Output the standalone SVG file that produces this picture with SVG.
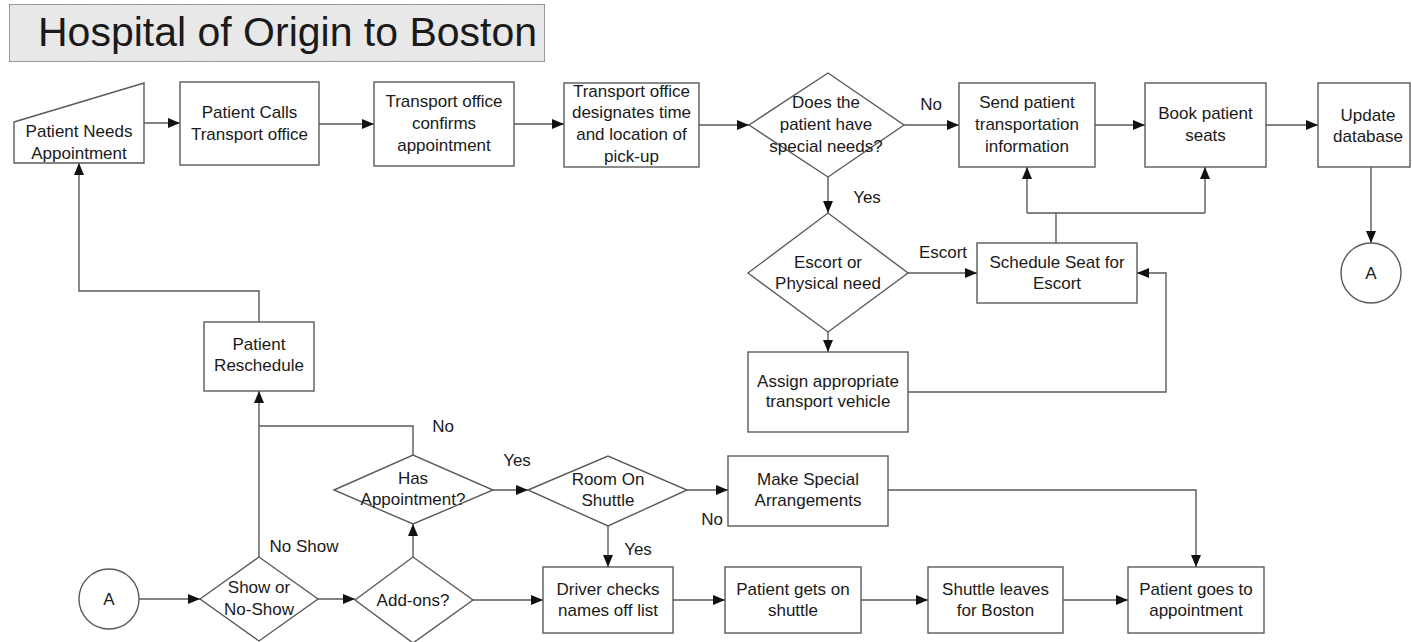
<svg xmlns="http://www.w3.org/2000/svg" width="1412" height="642" viewBox="0 0 1412 642">
  <defs>
    <marker id="arrow" viewBox="0 0 12 10" refX="12" refY="5" markerWidth="12" markerHeight="10" markerUnits="userSpaceOnUse" orient="auto">
      <path d="M0,0 L12,5 L0,10 Z" fill="#111"/>
    </marker>
    <!-- light speckle for the title banner -->
    <filter id="grain" x="0" y="0" width="100%" height="100%">
      <feTurbulence type="fractalNoise" baseFrequency="0.9" numOctaves="2" seed="3" result="noise"/>
      <feColorMatrix in="noise" type="matrix" values="0 0 0 0 0.55  0 0 0 0 0.55  0 0 0 0 0.55  0 0 0 0.35 0" result="speck"/>
      <feComposite in="speck" in2="SourceGraphic" operator="in" result="clipped"/>
      <feMerge><feMergeNode in="SourceGraphic"/><feMergeNode in="clipped"/></feMerge>
    </filter>
    <style>
      .shape { fill: #fff; stroke: #5a5a5a; stroke-width: 1.4; }
      .title-box { fill: #efefef; stroke: #666; stroke-width: 1.4; }
      .line { fill: none; stroke: #5a5a5a; stroke-width: 1.4; }
      .arr { marker-end: url(#arrow); }
      text { font-family: "Liberation Sans", Arial, Helvetica, sans-serif; fill: #1a1a1a; }
      .lbl { font-size: 17px; text-anchor: middle; }
      .title { font-size: 41px; }
    </style>
  </defs>

  <rect width="1412" height="642" fill="#fff"/>

  <!-- Title banner -->
  <g id="title">
    <rect class="title-box" x="9" y="4" width="536" height="58" filter="url(#grain)"/>
    <text class="title" x="38" y="46">Hospital of Origin to Boston</text>
  </g>

  <!-- Connectors -->
  <g id="connectors">
    <path class="line arr" d="M144,123 H180"/>
    <path class="line arr" d="M319,124 H374"/>
    <path class="line arr" d="M514,124 H564"/>
    <path class="line arr" d="M699,125 H749"/>
    <path class="line arr" d="M904,125 H959"/>
    <path class="line arr" d="M1095,125 H1145"/>
    <path class="line arr" d="M1266,125 H1318"/>
    <path class="line arr" d="M1371,167 V243"/>
    <path class="line arr" d="M828,177 V213"/>
    <path class="line arr" d="M908,273 H977"/>
    <path class="line arr" d="M828,332 V352"/>
    <path class="line arr" d="M908,392 H1166 V273 H1137"/>
    <path class="line" d="M1056,243 V213 M1027,213 H1205"/>
    <path class="line arr" d="M1027,213 V167"/>
    <path class="line arr" d="M1205,213 V167"/>
    <path class="line arr" d="M139,599 H200"/>
    <path class="line arr" d="M318,599 H355"/>
    <path class="line arr" d="M413,557 V524"/>
    <path class="line arr" d="M473,600 H543"/>
    <path class="line arr" d="M259,557 V391"/>
    <path class="line" d="M413,455 V426 H259"/>
    <path class="line arr" d="M259,322 V291 H79 V163"/>
    <path class="line arr" d="M493,490 H528"/>
    <path class="line arr" d="M687,490 H728"/>
    <path class="line arr" d="M608,526 V567"/>
    <path class="line arr" d="M888,490 H1196 V567"/>
    <path class="line arr" d="M673,600 H725"/>
    <path class="line arr" d="M861,600 H928"/>
    <path class="line arr" d="M1063,600 H1128"/>

    <text class="lbl" x="931" y="110">No</text>
    <text class="lbl" x="867" y="203">Yes</text>
    <text class="lbl" x="943" y="258">Escort</text>
    <text class="lbl" x="304" y="552">No Show</text>
    <text class="lbl" x="443" y="432">No</text>
    <text class="lbl" x="517" y="466">Yes</text>
    <text class="lbl" x="712" y="525">No</text>
    <text class="lbl" x="638" y="555">Yes</text>
  </g>

  <!-- Top row -->
  <g id="patient-needs-appointment">
    <polygon class="shape" points="14,122 144,83 144,163 14,163"/>
    <text class="lbl" x="79" y="137">Patient Needs</text>
    <text class="lbl" x="79" y="159">Appointment</text>
  </g>
  <g id="patient-calls">
    <rect class="shape" x="180" y="82" width="139" height="83"/>
    <text class="lbl" x="249.5" y="118">Patient Calls</text>
    <text class="lbl" x="249.5" y="140">Transport office</text>
  </g>
  <g id="office-confirms">
    <rect class="shape" x="374" y="82" width="140" height="84"/>
    <text class="lbl" x="444" y="107">Transport office</text>
    <text class="lbl" x="444" y="129">confirms</text>
    <text class="lbl" x="444" y="151">appointment</text>
  </g>
  <g id="office-designates">
    <rect class="shape" x="564" y="83" width="135" height="84"/>
    <text class="lbl" x="631.5" y="97">Transport office</text>
    <text class="lbl" x="631.5" y="118">designates time</text>
    <text class="lbl" x="631.5" y="140">and location of</text>
    <text class="lbl" x="631.5" y="162">pick-up</text>
  </g>
  <g id="special-needs">
    <polygon class="shape" points="749,125 828,73 904,125 828,177"/>
    <text class="lbl" x="826" y="108">Does the</text>
    <text class="lbl" x="826" y="130">patient have</text>
    <text class="lbl" x="826" y="152">special needs?</text>
  </g>
  <g id="send-info">
    <rect class="shape" x="959" y="83" width="136" height="84"/>
    <text class="lbl" x="1027" y="108">Send patient</text>
    <text class="lbl" x="1027" y="130">transportation</text>
    <text class="lbl" x="1027" y="152">information</text>
  </g>
  <g id="book-seats">
    <rect class="shape" x="1145" y="83" width="121" height="84"/>
    <text class="lbl" x="1205.5" y="119">Book patient</text>
    <text class="lbl" x="1205.5" y="141">seats</text>
  </g>
  <g id="update-database">
    <rect class="shape" x="1318" y="83" width="92" height="84"/>
    <text class="lbl" x="1368" y="121">Update</text>
    <text class="lbl" x="1368" y="142">database</text>
  </g>
  <g id="connector-a-top">
    <circle class="shape" cx="1371" cy="273" r="30"/>
    <text class="lbl" x="1371" y="279">A</text>
  </g>

  <!-- Special needs branch -->
  <g id="escort-or-physical">
    <polygon class="shape" points="748,273 828,213 908,273 828,332"/>
    <text class="lbl" x="828" y="268">Escort or</text>
    <text class="lbl" x="828" y="289">Physical need</text>
  </g>
  <g id="schedule-seat">
    <rect class="shape" x="977" y="243" width="160" height="60"/>
    <text class="lbl" x="1057" y="268">Schedule Seat for</text>
    <text class="lbl" x="1057" y="289">Escort</text>
  </g>
  <g id="assign-vehicle">
    <rect class="shape" x="748" y="352" width="160" height="80"/>
    <text class="lbl" x="828" y="387">Assign appropriate</text>
    <text class="lbl" x="828" y="407">transport vehicle</text>
  </g>

  <!-- Pick-up day -->
  <g id="patient-reschedule">
    <rect class="shape" x="204" y="322" width="110" height="69"/>
    <text class="lbl" x="259" y="350">Patient</text>
    <text class="lbl" x="259" y="371">Reschedule</text>
  </g>
  <g id="has-appointment">
    <polygon class="shape" points="334,490 413,455 493,490 413,524"/>
    <text class="lbl" x="413" y="484">Has</text>
    <text class="lbl" x="413" y="505">Appointment?</text>
  </g>
  <g id="room-on-shuttle">
    <polygon class="shape" points="528,490 608,456 687,490 608,526"/>
    <text class="lbl" x="608" y="485">Room On</text>
    <text class="lbl" x="608" y="506">Shuttle</text>
  </g>
  <g id="special-arrangements">
    <rect class="shape" x="728" y="456" width="160" height="70"/>
    <text class="lbl" x="808" y="485">Make Special</text>
    <text class="lbl" x="808" y="506">Arrangements</text>
  </g>
  <g id="connector-a-bottom">
    <circle class="shape" cx="109" cy="599" r="30"/>
    <text class="lbl" x="109" y="605">A</text>
  </g>
  <g id="show-or-no-show">
    <polygon class="shape" points="200,599 259,557 318,599 259,641"/>
    <text class="lbl" x="259" y="593">Show or</text>
    <text class="lbl" x="259" y="615">No-Show</text>
  </g>
  <g id="add-ons">
    <polygon class="shape" points="355,600 413,557 473,600 413,643"/>
    <text class="lbl" x="413" y="606">Add-ons?</text>
  </g>
  <g id="driver-checks">
    <rect class="shape" x="543" y="567" width="130" height="66"/>
    <text class="lbl" x="608" y="595">Driver checks</text>
    <text class="lbl" x="608" y="616">names off list</text>
  </g>
  <g id="gets-on-shuttle">
    <rect class="shape" x="725" y="567" width="136" height="66"/>
    <text class="lbl" x="793" y="595">Patient gets on</text>
    <text class="lbl" x="793" y="616">shuttle</text>
  </g>
  <g id="shuttle-leaves">
    <rect class="shape" x="928" y="567" width="135" height="66"/>
    <text class="lbl" x="995.5" y="595">Shuttle leaves</text>
    <text class="lbl" x="995.5" y="616">for Boston</text>
  </g>
  <g id="goes-to-appointment">
    <rect class="shape" x="1128" y="567" width="136" height="66"/>
    <text class="lbl" x="1196" y="595">Patient goes to</text>
    <text class="lbl" x="1196" y="616">appointment</text>
  </g>
</svg>
